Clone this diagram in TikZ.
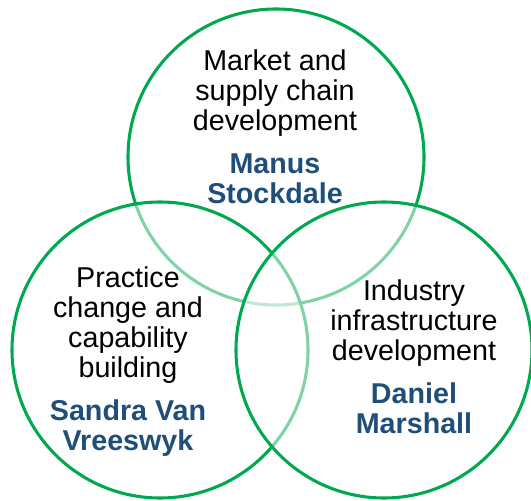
\documentclass[tikz,border=0pt]{standalone}
\usepackage{fontspec}
\setmainfont{Liberation Sans}
\definecolor{ringgreen}{RGB}{0, 168, 80}
\definecolor{leadblue}{RGB}{31, 78, 121}
\usetikzlibrary{positioning}

\begin{document}
\begin{tikzpicture}[x=0.75pt, y=0.75pt]
  \tikzset{
    ring/.style={circle, draw=ringgreen, line width=2.3pt, minimum size=222pt, inner sep=0pt},
    veil/.style={ring, fill=white, fill opacity=0.5},
    topic/.style={align=center, anchor=base, inner sep=0pt, font=\fontsize{21.5}{22.5}\selectfont},
  }
  \newcommand{\lead}[1]{{\color{leadblue}\bfseries #1}}
  \useasboundingbox (0, 0) rectangle (531, 500);

  % Three overlapping circles (later ones veil the earlier arcs)
  \node[ring] (market) at (276, 343) {};
  \node[veil] (practice) at (160, 150) {};
  \node[veil] (industry) at (384, 150) {};

  % Texts (base = last line)
  \node[topic] (markettext) at (275, 296)
    {Market and\\supply chain\\development\\[9.75pt]\lead{Manus}\\\lead{Stockdale}};
  \node[topic] (practicetext) at (128, 50)
    {Practice\\change and\\capability\\building\\[9.75pt]\lead{Sandra Van}\\\lead{Vreeswyk}};
  \node[topic] (industrytext) at (414, 67)
    {Industry\\infrastructure\\development\\[9.75pt]\lead{Daniel}\\\lead{Marshall}};
\end{tikzpicture}
\end{document}
